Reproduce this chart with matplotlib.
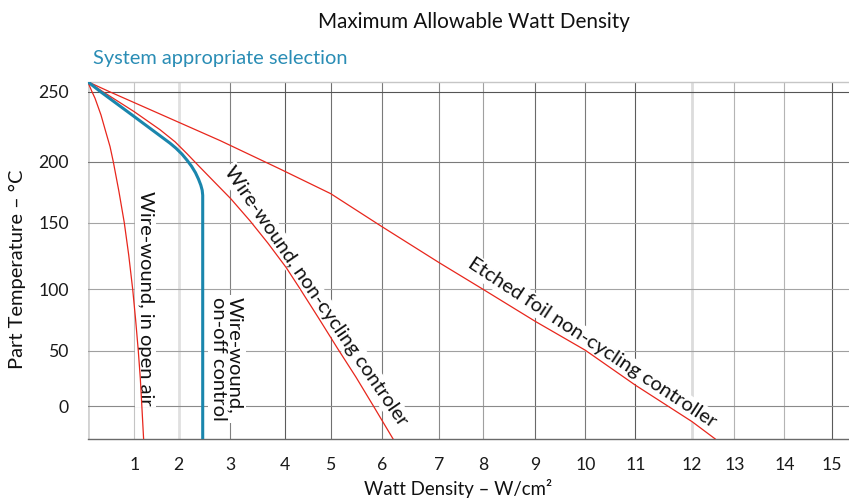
import numpy as np
import matplotlib
matplotlib.use("Agg")
import matplotlib.pyplot as plt

plt.rcParams['font.family'] = ['Lato', 'DejaVu Sans']

# ---- data: maximum part temperature (°C) vs. allowable watt density (W/cm²) ----
open_air_temp = [257, 250, 245.2, 233.3, 221.5, 210.8, 200, 175.6, 150, 125.8,
                 100, 75.2, 50, 25.3, 0, -30]
open_air_wd = [0.0, 0.09, 0.157, 0.285, 0.386, 0.479, 0.549, 0.67, 0.785, 0.88,
               0.966, 1.03, 1.09, 1.135, 1.17, 1.21]

onoff_temp = [257, 250, 232.1, 213.2, 209.6, 205.4, 201.1, 196.3, 191.0, 185.7,
              180.8, 176.6, 172.5, -30]
onoff_wd = [0.0, 0.27, 1.0, 1.804, 1.939, 2.064, 2.162, 2.25, 2.327, 2.386,
            2.431, 2.458, 2.468, 2.468]

noncycling_temp = [257, 250, 235.6, 222.8, 214.2, 205.7, 196.3, 183.1, 169.7, 151.5,
                   134.6, 116.6, 101.7, 76.6, 51.8, 26.2, 0, -30]
noncycling_wd = [0.0, 0.32, 1.0, 1.579, 1.917, 2.162, 2.396, 2.702, 3.013, 3.364,
                 3.691, 4.022, 4.306, 4.737, 5.136, 5.493, 5.834, 6.197]

etched_temp = [257, 250, 215, 194, 178, 173.8, 147, 120, 100, 74, 50.5, 19, -14, -30]
etched_wd = [0.0, 0.46, 2.81, 3.91, 4.77, 5.0, 6.0, 7.0, 8.0, 9.0, 10.0, 11.0, 12.0, 12.56]

x_ticks = list(range(1, 16))
y_ticks = [0, 50, 100, 150, 200, 250]

# ---- the grid of this chart is hand-spaced: tick value -> relative position ----
x_grid_vals = list(range(0, 16))
x_grid_pos = [87.7, 134.3, 178.7, 230.0, 285.0, 330.7, 382.0, 439.3, 483.3,
              535.3, 585.3, 635.3, 692.0, 734.3, 784.3, 831.7]
y_grid_vals = [0, 50, 100, 150, 200, 250]
y_grid_pos = [94.0, 149.3, 210.7, 277.5, 338.5, 408.7]

x_grid_colors = ['#d2d2d2', '#c4c4c4', '#e0e0e0', '#808080', '#5c5c5c', '#707070',
                 '#7a7a7a', '#8a8a8a', '#a0a0a0', '#6a6a6a', '#7a7a7a', '#5c5c5c',
                 '#dcdcdc', '#b4b4b4', '#b4b4b4', '#5a5a5a']
x_grid_widths = [2.0, 0.8, 2.0, 0.8, 0.8, 0.8, 0.8, 0.8, 0.8, 0.8, 0.8, 0.8,
                 2.0, 0.8, 0.8, 0.8]
y_grid_colors = ['#8a8a8a', '#a0a0a0', '#a4a4a4', '#a4a4a4', '#7a7a7a', '#555555']


def piecewise_scale(vals, pos):
    vals = np.asarray(vals, float)
    pos = np.asarray(pos, float)
    s0 = (pos[1] - pos[0]) / (vals[1] - vals[0])
    s1 = (pos[-1] - pos[-2]) / (vals[-1] - vals[-2])

    def fwd(v):
        v = np.asarray(v, float)
        out = np.interp(v, vals, pos)
        out = np.where(v < vals[0], pos[0] + (v - vals[0]) * s0, out)
        out = np.where(v > vals[-1], pos[-1] + (v - vals[-1]) * s1, out)
        return out

    def inv(p):
        p = np.asarray(p, float)
        out = np.interp(p, pos, vals)
        out = np.where(p < pos[0], vals[0] + (p - pos[0]) / s0, out)
        out = np.where(p > pos[-1], vals[-1] + (p - pos[-1]) / s1, out)
        return out

    return fwd, inv


RED = '#e8261c'
BLUE = '#1a86ad'
TEAL_TEXT = '#2a8db5'

fig = plt.figure(figsize=(8.49, 5.0), dpi=100)
ax = fig.add_axes([87.7 / 849, (500 - 439.3) / 500, 1 - 87.7 / 849, (439.3 - 81.7) / 500])

ax.set_xscale('function', functions=piecewise_scale(x_grid_vals, x_grid_pos))
ax.set_yscale('function', functions=piecewise_scale(y_grid_vals, y_grid_pos))
ax.set_xlim(0, 15.365)
ax.set_ylim(-30, 257)

for s in ax.spines.values():
    s.set_visible(False)

# grid
for v, c, w in zip(x_grid_vals, x_grid_colors, x_grid_widths):
    ax.axvline(v, color=c, lw=w, zorder=1)
for v, c in zip(y_grid_vals, y_grid_colors):
    ax.axhline(v, color=c, lw=0.8, zorder=1)
ax.axhline(257, color='#c6c6c6', lw=1.0, zorder=1, clip_on=False)
ax.axhline(-30, color='#6a6a6a', lw=1.0, zorder=1, clip_on=False)

# curves
line_kw = dict(solid_joinstyle='round', solid_capstyle='butt')
ax.plot(open_air_wd, open_air_temp, color=RED, lw=0.9, zorder=5, **line_kw)
ax.plot(noncycling_wd, noncycling_temp, color=RED, lw=0.9, zorder=5, **line_kw)
ax.plot(etched_wd, etched_temp, color=RED, lw=0.9, zorder=5, **line_kw)
ax.plot(onoff_wd, onoff_temp, color=BLUE, lw=2.2, zorder=6, **line_kw)

# curve labels
box = dict(boxstyle='square,pad=0.1', fc='white', ec='none')
lab = dict(fontsize=14.5, color='#111111', ha='center', va='center',
           rotation_mode='anchor', bbox=box, zorder=4)
ax.text(1.26, 93, 'Wire-wound, in open air', rotation=-90, **lab)
ax.text(2.94, 43, 'Wire-wound,\non-off control', rotation=-90,
        multialignment='left', linespacing=0.95, **lab)
ax.text(4.68, 94.6, 'Wire-wound, non-cycling controler', rotation=-55.5, **lab)
ax.text(10.14, 56.5, 'Etched foil non-cycling controller', rotation=-33.4, **lab)

# ticks
ax.set_xticks(x_ticks)
ax.set_xticklabels([str(t) for t in x_ticks])
ax.set_yticks(y_ticks)
ax.set_yticklabels([str(t) for t in y_ticks])
ax.tick_params(axis='both', length=0, labelsize=12.7, labelcolor='#1a1a1a')
ax.tick_params(axis='x', pad=12.5)
ax.tick_params(axis='y', pad=13.5)

# titles and axis names
fig.text(474 / 849, 1 - 28 / 500, 'Maximum Allowable Watt Density',
         ha='center', va='baseline', fontsize=14.9, color='#111111')
fig.text(92.7 / 849, 1 - 64 / 500, 'System appropriate selection',
         ha='left', va='baseline', fontsize=14.4, color=TEAL_TEXT)
fig.text(457.8 / 849, 1 - 495 / 500, 'Watt Density – W/cm²',
         ha='center', va='baseline', fontsize=13.4, color='#111111')
fig.text(17.5 / 849, 1 - 269 / 500, 'Part Temperature – °C', rotation=90,
         ha='center', va='center', fontsize=14.5, color='#111111')

fig.savefig('out.png', dpi=100)
